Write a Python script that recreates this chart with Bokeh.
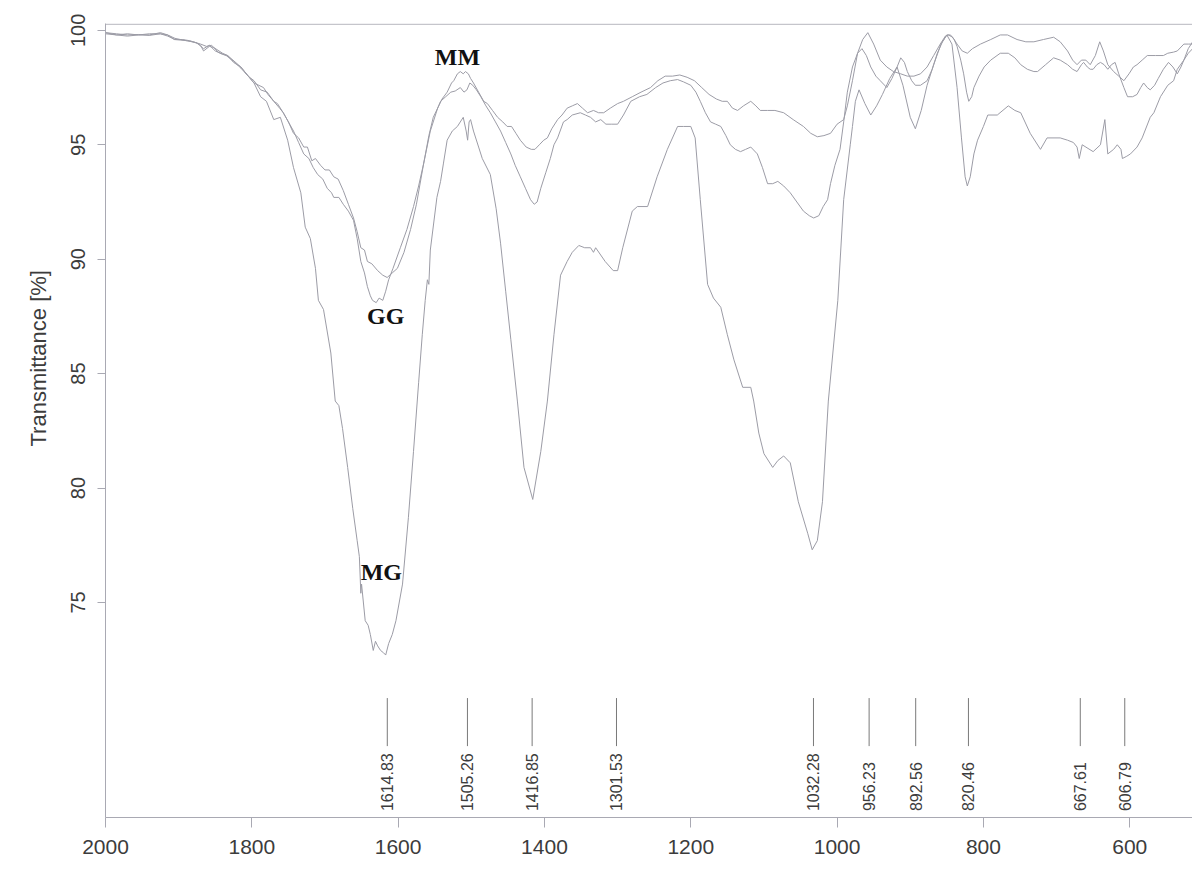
import math
from bokeh.plotting import figure
from bokeh.models import Range1d, FixedTicker, Span, Title, ColumnDataSource
from bokeh.core.properties import value
from bokeh.embed import file_html
from bokeh.resources import INLINE

# ---- spectra: wavenumber [cm-1] and transmittance [%] ----
mg_wn = [2000, 1985, 1970, 1955, 1940, 1925, 1915, 1906, 1888, 1876, 1870, 1866, 1858, 1852, 1840,
         1833, 1815, 1797, 1788, 1780, 1770, 1761, 1751, 1743, 1733, 1727, 1720, 1713, 1709, 1702,
         1692, 1686, 1681, 1676, 1669, 1662, 1656, 1653, 1651, 1650, 1645, 1641, 1638, 1634, 1631,
         1628, 1624, 1620, 1617, 1613, 1608, 1603, 1594, 1586, 1579, 1572, 1567, 1563, 1560, 1558,
         1556, 1547, 1542, 1538, 1533, 1526, 1519, 1511, 1507, 1505, 1503, 1501, 1497, 1490, 1485,
         1474, 1466, 1460, 1453, 1446, 1437, 1428, 1416, 1405, 1396, 1387, 1378, 1369, 1362, 1353,
         1345, 1337, 1333, 1330, 1317, 1306, 1300, 1293, 1280, 1273, 1259, 1246, 1232, 1218, 1210,
         1200, 1194, 1187, 1177, 1169, 1159, 1150, 1141, 1129, 1118, 1114, 1107, 1100, 1088, 1081,
         1073, 1064, 1053, 1040, 1034, 1027, 1020, 1012, 999, 991, 982, 979, 975, 970, 962,
         954, 946, 938, 928, 918, 910, 900, 893, 885, 877, 868, 858, 850, 843, 836,
         830, 825, 822, 818, 813, 808, 800, 794, 781, 766, 757, 749, 736, 722, 713,
         695, 685, 677, 672, 669, 665, 650, 640, 634, 630, 622, 617, 612, 610, 604,
         599, 590, 583, 572, 567, 558, 548, 540, 535, 526, 520, 514]
mg_t = [99.9, 99.85, 99.8, 99.82, 99.78, 99.85, 99.8, 99.6, 99.55, 99.45, 99.35, 99.1, 99.3, 99.25, 99.0,
        98.9, 98.4, 97.7, 97.1, 96.9, 96.1, 96.2, 95.2, 94.0, 92.9, 91.4, 90.9, 89.6, 88.2, 87.8,
        85.9, 83.8, 83.6, 82.6, 80.9, 79.1, 77.7, 77.0, 75.4, 75.8, 74.2, 74.0, 73.6, 72.9, 73.3,
        73.1, 72.9, 72.8, 72.7, 73.2, 73.6, 74.2, 75.8, 78.7, 81.6, 84.6, 86.7, 88.2, 89.1, 88.9,
        90.4, 92.7, 93.4, 94.2, 95.2, 95.6, 95.8, 96.2, 95.6, 95.2, 96.0, 96.1, 95.6, 94.9, 94.4,
        93.7, 92.2, 90.7, 88.6, 86.5, 83.8, 80.9, 79.5, 81.6, 83.8, 86.7, 89.3, 89.9, 90.3, 90.6,
        90.5, 90.5, 90.3, 90.5, 89.9, 89.5, 89.5, 90.5, 92.1, 92.3, 92.3, 93.6, 94.8, 95.8, 95.8,
        95.8, 95.3, 92.6, 88.9, 88.3, 87.9, 86.7, 85.6, 84.4, 84.4, 83.8, 82.4, 81.5, 80.9, 81.2,
        81.4, 81.1, 79.4, 78.0, 77.3, 77.7, 79.4, 83.8, 88.2, 92.6, 95.0, 95.8, 96.9, 97.4, 96.8,
        96.3, 96.7, 97.2, 97.9, 98.4, 97.6, 96.2, 95.7, 96.5, 97.6, 98.5, 99.4, 99.8, 99.4, 97.5,
        95.3, 93.6, 93.2, 93.6, 94.6, 95.2, 95.8, 96.3, 96.3, 96.7, 96.5, 96.4, 95.5, 94.8, 95.3,
        95.3, 95.2, 95.1, 94.9, 94.4, 95.0, 94.7, 95.0, 96.1, 94.6, 94.8, 95.0, 94.8, 94.4, 94.5,
        94.6, 94.9, 95.3, 96.2, 96.4, 97.1, 97.6, 97.8, 98.3, 98.7, 99.0, 99.2]

gg_wn = [2000, 1985, 1970, 1955, 1940, 1925, 1915, 1905, 1895, 1885, 1875, 1866, 1858, 1850, 1840,
         1833, 1825, 1815, 1805, 1797, 1784, 1778, 1770, 1765, 1757, 1750, 1743, 1736, 1729, 1724,
         1718, 1713, 1706, 1700, 1694, 1688, 1682, 1675, 1668, 1661, 1656, 1651, 1646, 1642, 1636,
         1628, 1621, 1615, 1608, 1601, 1592, 1583, 1575, 1565, 1556, 1546, 1540, 1533, 1527, 1524,
         1519, 1515, 1511, 1508, 1504, 1501, 1497, 1490, 1483, 1478, 1471, 1464, 1457, 1451, 1445,
         1439, 1433, 1425, 1418, 1413, 1407, 1401, 1396, 1390, 1382, 1376, 1369, 1362, 1355, 1348,
         1341, 1333, 1326, 1319, 1310, 1300, 1292, 1280, 1268, 1255, 1245, 1235, 1225, 1215, 1205,
         1195, 1185, 1175, 1165, 1157, 1150, 1143, 1136, 1128, 1118, 1111, 1105, 1095, 1085, 1073,
         1060, 1046, 1036, 1027, 1018, 1009, 1000, 991, 986, 979, 972, 965, 958, 950, 941,
         932, 923, 913, 904, 895, 886, 877, 868, 859, 852, 848, 842, 836, 829, 822,
         815, 804, 790, 777, 767, 754, 742, 731, 718, 704, 695, 685, 678, 672, 666,
         660, 654, 647, 641, 636, 630, 622, 615, 608, 601, 595, 590, 583, 576, 565,
         554, 548, 540, 535, 526, 520, 514]
gg_t = [99.9, 99.8, 99.75, 99.8, 99.85, 99.85, 99.75, 99.6, 99.6, 99.55, 99.45, 99.2, 99.35, 99.1, 98.95,
        98.9, 98.6, 98.4, 98.0, 97.7, 97.5, 97.2, 96.9, 96.8, 96.4, 96.0, 95.5, 95.3, 94.9, 94.9,
        94.3, 94.4, 94.1, 93.9, 93.9, 93.6, 93.5, 93.0, 92.4, 91.8, 91.2, 90.5, 90.4, 89.9, 89.8,
        89.5, 89.3, 89.2, 89.4, 89.6, 90.3, 91.3, 92.4, 94.2, 95.6, 96.6, 97.0, 97.3, 97.7, 97.8,
        98.1, 98.2, 98.1, 98.2, 98.1, 97.9, 97.7, 97.3, 96.9, 96.8, 96.5, 96.2, 96.0, 95.8, 95.8,
        95.5, 95.2, 94.9, 94.8, 94.8, 95.0, 95.2, 95.3, 95.7, 96.1, 96.3, 96.6, 96.7, 96.8, 96.6,
        96.4, 96.5, 96.4, 96.4, 96.6, 96.8, 96.9, 97.1, 97.3, 97.5, 97.8, 98.0, 98.0, 98.05, 97.95,
        97.8, 97.5, 97.2, 97.0, 96.9, 96.9, 96.6, 96.5, 96.7, 96.9, 96.7, 96.5, 96.5, 96.5, 96.4,
        96.1, 95.8, 95.5, 95.35, 95.4, 95.5, 95.9, 96.1, 96.7, 97.8, 99.0, 99.6, 99.9, 99.4, 98.7,
        98.4, 98.2, 98.1, 98.0, 98.0, 98.1, 98.4, 98.9, 99.4, 99.75, 99.8, 99.7, 99.4, 99.1, 99.0,
        99.2, 99.4, 99.6, 99.8, 99.8, 99.6, 99.5, 99.5, 99.6, 99.7, 99.5, 99.1, 98.7, 98.5, 98.7,
        98.7, 98.5, 98.9, 99.5, 99.1, 98.5, 98.2, 98.0, 97.8, 98.1, 98.4, 98.5, 98.7, 98.9, 98.9,
        98.9, 99.0, 99.05, 99.1, 99.4, 99.4, 99.4]

mm_wn = [2000, 1985, 1970, 1955, 1940, 1925, 1915, 1905, 1890, 1880, 1870, 1862, 1855, 1846, 1835,
         1825, 1815, 1805, 1797, 1788, 1779, 1770, 1762, 1757, 1750, 1743, 1736, 1729, 1722, 1716,
         1710, 1703, 1697, 1691, 1688, 1681, 1675, 1668, 1661, 1656, 1651, 1646, 1642, 1638, 1635,
         1630, 1626, 1621, 1617, 1613, 1607, 1597, 1588, 1579, 1572, 1565, 1558, 1552, 1546, 1542,
         1535, 1528, 1522, 1515, 1510, 1506, 1502, 1498, 1493, 1487, 1480, 1474, 1467, 1460, 1453,
         1446, 1440, 1433, 1426, 1419, 1414, 1410, 1405, 1398, 1392, 1387, 1382, 1374, 1369, 1362,
         1351, 1344, 1337, 1330, 1323, 1316, 1308, 1300, 1292, 1282, 1270, 1260, 1248, 1238, 1228,
         1218, 1210, 1200, 1193, 1187, 1180, 1173, 1166, 1159, 1152, 1146, 1139, 1132, 1125, 1118,
         1109, 1102, 1095, 1088, 1081, 1073, 1064, 1055, 1046, 1038, 1032, 1025, 1019, 1013, 1009,
         1003, 996, 991, 986, 979, 972, 966, 960, 954, 947, 941, 932, 925, 918, 913,
         908, 904, 898, 893, 886, 877, 870, 863, 856, 850, 845, 840, 836, 831, 827,
         823, 820, 816, 813, 806, 799, 790, 777, 766, 757, 749, 740, 731, 726, 715,
         704, 695, 685, 678, 672, 666, 663, 658, 654, 650, 645, 640, 635, 630, 625,
         620, 615, 608, 603, 596, 590, 585, 581, 576, 572, 566, 561, 554, 547, 541,
         535, 530, 526, 520, 514]
mm_t = [99.85, 99.8, 99.85, 99.8, 99.8, 99.9, 99.8, 99.65, 99.55, 99.5, 99.4, 99.3, 99.35, 99.05, 98.9,
        98.65, 98.35, 98.0, 97.8, 97.4, 97.3, 96.9, 96.6, 96.4, 96.0, 95.6, 95.1, 94.6, 94.4, 94.0,
        93.7, 93.5, 93.1, 92.9, 92.7, 92.7, 92.4, 92.1, 91.7, 90.9, 89.9, 89.4, 88.8, 88.4, 88.2,
        88.1, 88.3, 88.2, 88.6, 89.1, 89.6, 90.5, 91.3, 92.3, 93.2, 94.2, 95.4, 96.2, 96.6, 96.9,
        97.1, 97.3, 97.35, 97.5, 97.3, 97.4, 97.7, 97.6, 97.4, 97.1, 96.7, 96.4, 96.0, 95.6, 95.1,
        94.6, 94.1, 93.6, 93.1, 92.6, 92.4, 92.5, 93.1, 93.8, 94.4, 95.0, 95.3, 96.0, 96.1, 96.3,
        96.4, 96.3, 96.2, 96.0, 96.1, 95.9, 95.9, 95.9, 96.3, 96.9, 97.1, 97.2, 97.5, 97.7, 97.8,
        97.85, 97.75, 97.6, 97.3, 96.9, 96.4, 96.0, 95.9, 95.8, 95.4, 95.0, 94.8, 94.7, 94.8, 94.9,
        94.6, 94.0, 93.3, 93.3, 93.4, 93.2, 92.9, 92.5, 92.1, 91.9, 91.8, 91.9, 92.3, 92.6, 93.3,
        94.1, 94.8, 96.0, 97.3, 98.4, 99.0, 99.2, 98.9, 98.4, 98.0, 97.8, 97.5, 97.9, 98.4, 98.8,
        98.6, 98.2, 97.8, 97.6, 97.6, 97.8, 98.3, 99.0, 99.5, 99.8, 99.8, 99.6, 99.3, 98.7, 98.1,
        97.3, 96.9, 97.1, 97.5, 98.0, 98.4, 98.7, 99.0, 99.0, 98.8, 98.5, 98.3, 98.2, 98.2, 98.5,
        98.8, 98.7, 98.5, 98.3, 98.2, 98.5, 98.6, 98.4, 98.3, 98.3, 98.5, 98.6, 98.5, 98.3, 98.5,
        98.6, 98.1, 97.5, 97.1, 97.1, 97.2, 97.5, 97.7, 97.5, 97.4, 97.6, 97.9, 98.3, 98.6, 98.4,
        98.1, 98.4, 98.7, 99.2, 99.5]

# ---- marked band positions ----
peak_wn = [1614.83, 1505.26, 1416.85, 1301.53, 1032.28, 956.23, 892.56, 820.46, 667.61, 606.79]
peak_text = ["1614.83", "1505.26", "1416.85", "1301.53", "1032.28", "956.23", "892.56", "820.46",
             "667.61", "606.79"]

# ---- sample names ----
name_text = ["GG", "MM", "MG"]
name_wn = [1617, 1519, 1623]
name_t = [87.5, 98.85, 76.35]

x_ticks = [2000, 1800, 1600, 1400, 1200, 1000, 800, 600]
y_ticks = [75, 80, 85, 90, 95, 100]

AXIS_COL = "#a9a9b3"
TEXT_COL = "#3c3c3c"
LINE_COL = "#9c9ca6"

p = figure(width=1192, height=877, output_backend="svg", toolbar_location=None,
           x_range=Range1d(2000, 514.2), y_range=Range1d(65.6, 100.3),
           min_border_left=105, min_border_right=0, min_border_top=23,
           min_border_bottom=60)

p.outline_line_color = None
p.grid.visible = False
p.background_fill_color = "white"

# top frame edge
p.add_layout(Span(location=100.27, dimension="width", line_color=AXIS_COL, line_width=1))

for wn, t in ((gg_wn, gg_t), (mm_wn, mm_t), (mg_wn, mg_t)):
    p.line(wn, t, line_color=LINE_COL, line_width=1.0)

# band markers
p.segment(x0=peak_wn, y0=[68.72] * len(peak_wn), x1=peak_wn, y1=[70.82] * len(peak_wn),
          line_color="#7a7a7a", line_width=1)
peak_src = ColumnDataSource(dict(x=peak_wn, y=[65.88] * len(peak_wn), t=peak_text))
p.text(x="x", y="y", text="t", source=peak_src, angle=math.pi / 2,
       text_align="left", text_baseline="middle",
       text_font=value("Liberation Sans"), text_font_size="16px", text_color=TEXT_COL)

name_src = ColumnDataSource(dict(x=name_wn, y=name_t, t=name_text))
p.text(x="x", y="y", text="t", source=name_src, text_align="center", text_baseline="middle",
       text_font=value("Liberation Serif"), text_font_style="bold", text_font_size="24px",
       text_color="#111111")

# axes
xa = p.xaxis[0]
xa.ticker = FixedTicker(ticks=x_ticks)
xa.minor_tick_line_color = None
xa.major_tick_out = 10
xa.major_tick_in = 0
xa.axis_line_color = AXIS_COL
xa.major_tick_line_color = AXIS_COL
xa.major_label_text_font = "Liberation Sans"
xa.major_label_text_font_size = "21px"
xa.major_label_text_color = TEXT_COL
xa.major_label_standoff = 12

ya = p.yaxis[0]
ya.ticker = FixedTicker(ticks=y_ticks)
ya.minor_tick_line_color = None
ya.major_tick_out = 8
ya.major_tick_in = 0
ya.axis_line_color = AXIS_COL
ya.major_tick_line_color = AXIS_COL
ya.major_label_text_font = "Liberation Sans"
ya.major_label_text_font_size = "20px"
ya.major_label_text_color = TEXT_COL
ya.major_label_orientation = "vertical"
ya.major_label_standoff = 12

# y-axis title in the left margin, starting part-way up the frame
p.add_layout(Title(text="Transmittance [%]", align="left", offset=371, standoff=36,
                   text_font="Liberation Sans", text_font_size="22px",
                   text_font_style="normal", text_color=TEXT_COL), "left")

open("out.html", "w").write(file_html(p, INLINE))
